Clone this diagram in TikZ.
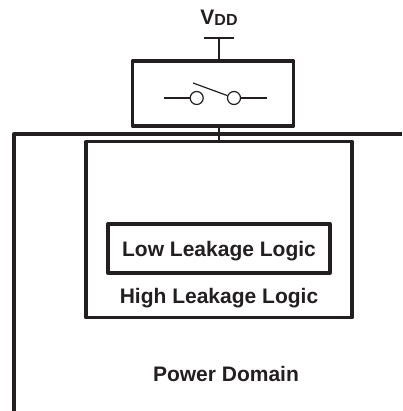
\documentclass[tikz,border=0pt]{standalone}
\usepackage{fontspec}
\setmainfont{Liberation Sans}
\definecolor{inkline}{HTML}{231F20}
\tikzset{
	heavybox/.style={draw=inkline,line width=3.3pt,line join=round,inner sep=0pt},
	wirethin/.style={draw=inkline,line width=1.2pt},
	contact/.style={circle,draw=inkline,line width=1.2pt,minimum size=13pt,inner sep=0pt},
	caption/.style={text=inkline,font=\bfseries\fontsize{21}{24}\selectfont,inner sep=0pt}
}
\begin{document}
\begin{tikzpicture}[x=1pt,y=-1pt]
   \useasboundingbox (0,0) rectangle (402,411);
   \node(switchbox)[heavybox,minimum width=161pt,minimum height=65pt] at (213,93.5){};
   \node(highbox)[heavybox,minimum width=266pt,minimum height=176pt] at (219,229.75){};
   \node(lowbox)[heavybox,minimum width=222pt,minimum height=49pt] at (219,248.5){};
   \node(lowtext)[caption] at (219,251){Low Leakage Logic};
   \node(hightext)[caption] at (219,298){High Leakage Logic};
   \node(domaintext)[caption] at (226,374){Power Domain};
   \node(vddtext)[caption] at (219,18){V\raisebox{-1pt}{\fontsize{16}{18}\selectfont DD}};
   \node(contacta)[contact] at (196.7,98){};
   \node(contactb)[contact] at (234,98){};
   \coordinate(railleft) at (204,38);
   \coordinate(railright) at (234,38);
   \coordinate(railmid) at (219,38);
   \coordinate(wirea) at (164,98);
   \coordinate(wireb) at (267,98);
   \coordinate(bladetop) at (193,83);
   \coordinate(domaincorner) at (14,134);
   \coordinate(domainend) at (402,134);
   \coordinate(domainfoot) at (14,411);
   % supply rail and feed
   \draw[wirethin] (railleft) -- (railright);
   \draw[wirethin] (railmid) -- (railmid |- switchbox.north);
   \draw[wirethin] (railmid |- switchbox.south) -- (railmid |- highbox.north);
   % switch
   \draw[wirethin] (wirea) -- (contacta);
   \draw[wirethin] (contactb) -- (wireb);
   \draw[wirethin] (bladetop) -- (contactb);
   % domain outline
   \draw[draw=inkline,line width=3.3pt,line join=round] (domainfoot) -- (domaincorner) -- (domainend);
\end{tikzpicture}
\end{document}
